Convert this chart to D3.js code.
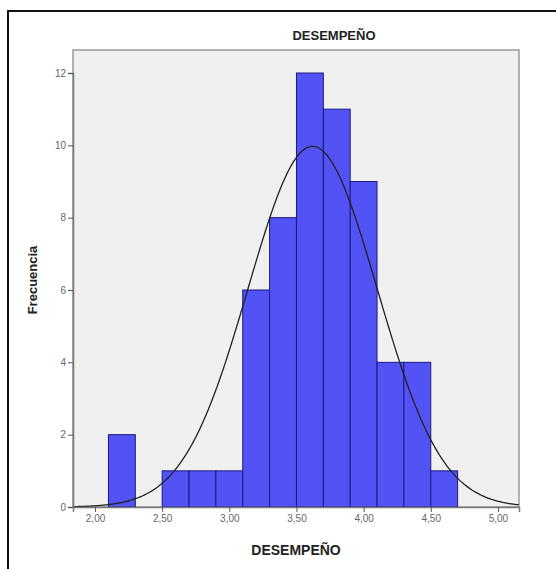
<!DOCTYPE html>
<html>
<head>
<meta charset="utf-8">
<script src="https://cdn.jsdelivr.net/npm/d3@7"></script>
<style>
  body { margin: 0; background: #fff; }
  svg { display: block; font-family: Arial, "Liberation Sans", sans-serif; }
</style>
</head>
<body>
<div id="chart"></div>
<script>
// Histogram data (bin edges and counts)
const binStarts = [2.10, 2.30, 2.50, 2.70, 2.90, 3.10, 3.30, 3.50, 3.70, 3.90, 4.10, 4.30, 4.50];
const counts    = [2,    0,    1,    1,    1,    6,    8,    12,   11,   9,    4,    4,    1];
const binWidth = 0.2;

const xTicks = [2.0, 2.5, 3.0, 3.5, 4.0, 4.5, 5.0];
const yTicks = [0, 2, 4, 6, 8, 10, 12];

// normal curve fit
const curveMean = 3.62;
const curveSd = 0.48;
const total = d3.sum(counts);

const width = 556, height = 569;
const plot = { left: 73, top: 50, right: 519, bottom: 507 };

const svg = d3.select("#chart").append("svg")
    .attr("width", width)
    .attr("height", height);

// outer frame
svg.append("rect")
    .attr("x", 8).attr("y", 11)
    .attr("width", 560).attr("height", 580)
    .attr("fill", "none")
    .attr("stroke", "#111")
    .attr("stroke-width", 2);

const x = d3.scaleLinear().domain([1.836, 5.157]).range([plot.left, plot.right]);
const y = d3.scaleLinear().domain([0, 12]).range([plot.bottom, 73]);

// plot background
svg.append("rect")
    .attr("x", plot.left).attr("y", plot.top)
    .attr("width", plot.right - plot.left)
    .attr("height", plot.bottom - plot.top)
    .attr("fill", "#f0f0f0")
    .attr("stroke", "#9a9a9a")
    .attr("stroke-width", 1.5);

// bars
svg.selectAll(".bar")
    .data(binStarts.map((b, i) => ({ x0: b, x1: b + binWidth, n: counts[i] })).filter(d => d.n > 0))
    .enter()
    .append("rect")
    .attr("class", "bar")
    .attr("x", d => x(d.x0))
    .attr("y", d => y(d.n))
    .attr("width", d => x(d.x1) - x(d.x0))
    .attr("height", d => y(0) - y(d.n))
    .attr("fill", "#5252f5")
    .attr("stroke", "#1a1a80")
    .attr("stroke-width", 1);

// normal curve
const curvePts = d3.range(x.domain()[0], x.domain()[1] + 0.001, 0.01).map(v => {
    const z = (v - curveMean) / curveSd;
    return [v, total * binWidth / (curveSd * Math.sqrt(2 * Math.PI)) * Math.exp(-0.5 * z * z)];
});
svg.append("path")
    .datum(curvePts)
    .attr("d", d3.line().x(d => x(d[0])).y(d => y(d[1])).curve(d3.curveBasis))
    .attr("fill", "none")
    .attr("stroke", "#222")
    .attr("stroke-width", 1.3);

// axes
const yAxis = svg.append("g")
    .attr("transform", `translate(${plot.left},0)`)
    .call(d3.axisLeft(y).tickValues(yTicks).tickSize(5).tickPadding(2).tickFormat(d3.format("d")));
const xAxis = svg.append("g")
    .attr("transform", `translate(0,${plot.bottom})`)
    .call(d3.axisBottom(x).tickValues(xTicks).tickSize(5).tickPadding(3).tickFormat(d => d.toFixed(2).replace(".", ",")));

[xAxis, yAxis].forEach(a => {
    a.select(".domain").attr("stroke", "#777").attr("stroke-width", 1.5);
    a.selectAll(".tick line").attr("stroke", "#555");
    a.selectAll(".tick text").attr("fill", "#666").style("font-size", "10px");
});

// titles
svg.append("text")
    .attr("x", 334).attr("y", 40)
    .attr("text-anchor", "middle")
    .style("font-size", "13px").style("font-weight", "bold")
    .attr("fill", "#222")
    .text("DESEMPEÑO");

svg.append("text")
    .attr("x", 296).attr("y", 555)
    .attr("text-anchor", "middle")
    .style("font-size", "14px").style("font-weight", "bold")
    .attr("fill", "#222")
    .text("DESEMPEÑO");

svg.append("text")
    .attr("transform", "translate(37,280) rotate(-90)")
    .attr("text-anchor", "middle")
    .style("font-size", "13px").style("font-weight", "bold")
    .attr("fill", "#222")
    .text("Frecuencia");
</script>
</body>
</html>
